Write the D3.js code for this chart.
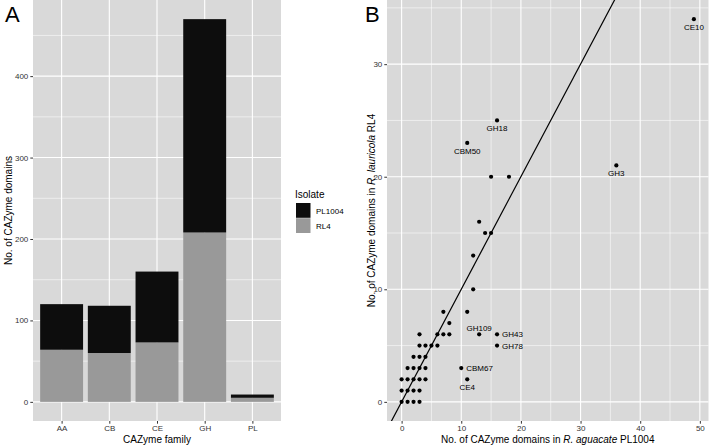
<!DOCTYPE html>
<html><head><meta charset="utf-8">
<script src="https://cdn.jsdelivr.net/npm/d3@7"></script>
<style>body{margin:0;background:#fff}text{font-family:"Liberation Sans",Arial,Helvetica,sans-serif}</style>
</head><body><svg id="c" width="709" height="447"></svg>
<script>
// ---- Panel A data ----
const families = ["AA","CB","CE","GH","PL"];
const rl4Counts = [64, 60, 73, 208, 5];
const pl1004Counts = [56, 58, 87, 262, 4];
const isolates = ["PL1004","RL4"];
const yTicksA = [0,100,200,300,400];

// ---- Panel B data ----
const pl1004Dom = [0,1,2,3, 0,1,2,3, 0,1,2,3,4,11, 1,2,3,4,10, 2,3,4, 3,4,5,6,16, 3,6,7,8,13,16, 8, 7,11, 12, 12, 14,15, 13, 15,18, 11, 16, 36, 49];
const rl4Dom    = [0,0,0,0, 1,1,1,1, 2,2,2,2,2,2,  3,3,3,3,3,  4,4,4, 5,5,5,5,5,   6,6,6,6,6,6,  7, 8,8,   10, 13, 15,15, 16, 20,20, 23, 25, 21, 34];
const labelNames = ["CE4","CBM67","GH78","GH43","GH109","CBM50","GH18","GH3","CE10"];
const labelX = [11,10,16,16,13,11,16,36,49];
const labelY = [2,3,5,6,6,23,25,21,34];
const xTicksB = [0,10,20,30,40,50];
const yTicksB = [0,10,20,30];

const labelPlacement = {CE4:"below",CBM67:"right",GH78:"right",GH43:"right",GH109:"above",CBM50:"below",GH18:"below",GH3:"below",CE10:"below"};

const svg = d3.select("#c");
const panelBg = "#d9d9d9";
const tickCol = "#333";

function grid(g, xs, ys, xMaj, xMin, yMaj, yMin, x0, x1, y0, y1){
  g.append("rect").attr("x",x0).attr("y",y0).attr("width",x1-x0).attr("height",y1-y0).attr("fill",panelBg);
  yMin.forEach(v=>g.append("line").attr("x1",x0).attr("x2",x1).attr("y1",ys(v)).attr("y2",ys(v)).attr("stroke","#fff").attr("stroke-width",0.55));
  xMin.forEach(v=>g.append("line").attr("y1",y0).attr("y2",y1).attr("x1",xs(v)).attr("x2",xs(v)).attr("stroke","#fff").attr("stroke-width",0.55));
  yMaj.forEach(v=>g.append("line").attr("x1",x0).attr("x2",x1).attr("y1",ys(v)).attr("y2",ys(v)).attr("stroke","#fff").attr("stroke-width",1.1));
  xMaj.forEach(v=>g.append("line").attr("y1",y0).attr("y2",y1).attr("x1",xs(v)).attr("x2",xs(v)).attr("stroke","#fff").attr("stroke-width",1.1));
}

// ================= Panel A =================
const aL=33, aR=281, pTop=0, pBot=421;
const xA = d3.scaleLinear().domain([0.4, families.length+0.6]).range([aL,aR]);
const totals = families.map((f,i)=>rl4Counts[i]+pl1004Counts[i]);
const maxA = d3.max(totals);
const yA = d3.scaleLinear().domain([-0.05*maxA, maxA*1.05]).range([pBot, pTop]);
const gA = svg.append("g");
grid(gA, xA, yA, families.map((f,i)=>i+1), [], yTicksA, [50,150,250,350,450], aL, aR, pTop, pBot);

const stackData = families.map((f,i)=>({family:f, idx:i+1, RL4:rl4Counts[i], PL1004:pl1004Counts[i]}));
const stacked = d3.stack().keys(["RL4","PL1004"])(stackData);
const fillMap = {RL4:"#999999", PL1004:"#0d0d0d"};
stacked.forEach(layer=>{
  gA.selectAll(null).data(layer).enter().append("rect")
    .attr("x", d=>xA(d.data.idx-0.45))
    .attr("width", d=>xA(d.data.idx+0.45)-xA(d.data.idx-0.45))
    .attr("y", d=>yA(d[1]))
    .attr("height", d=>yA(d[0])-yA(d[1]))
    .attr("fill", fillMap[layer.key]);
});
// axes A
const axA = svg.append("g").attr("transform",`translate(${aL},0)`)
  .call(d3.axisLeft(yA).tickValues(yTicksA).tickSize(2.7).tickPadding(2));
const axAx = svg.append("g").attr("transform",`translate(0,${pBot})`)
  .call(d3.axisBottom(xA).tickValues(families.map((f,i)=>i+1)).tickFormat((d)=>families[d-1]).tickSize(2.7).tickPadding(2));
[axA,axAx].forEach(a=>{a.select(".domain").remove();a.selectAll("line").attr("stroke",tickCol);a.selectAll("text").attr("fill",tickCol).attr("font-size",8).attr("font-family","Liberation Sans, Arial, sans-serif");});

svg.append("text").attr("x",(aL+aR)/2).attr("y",443).attr("text-anchor","middle").attr("font-size",10).text("CAZyme family");
svg.append("text").attr("transform",`translate(12,${(pTop+pBot)/2}) rotate(-90)`).attr("text-anchor","middle").attr("font-size",10).text("No. of CAZyme domains");
svg.append("text").attr("x",5).attr("y",22).attr("font-size",22).text("A");

// legend
const lg = svg.append("g");
lg.append("text").attr("x",295).attr("y",198).attr("font-size",10).text("Isolate");
isolates.forEach((k,i)=>{
  lg.append("rect").attr("x",296).attr("y",203+i*15.2).attr("width",14.5).attr("height",14.8).attr("fill",fillMap[k]);
  lg.append("text").attr("x",316).attr("y",213.5+i*15.2).attr("font-size",8).text(k);
});

// ================= Panel B =================
const bL=387, bR=708.5;
const xmaxB = d3.max(pl1004Dom), ymaxB = d3.max(rl4Dom);
const xB = d3.scaleLinear().domain([-0.05*xmaxB, xmaxB*1.05]).range([bL,bR]);
const yB = d3.scaleLinear().domain([-0.05*ymaxB, ymaxB*1.05]).range([pBot,pTop]);
const gB = svg.append("g");
grid(gB, xB, yB, xTicksB, [5,15,25,35,45], yTicksB, [5,15,25,35], bL, bR, pTop, pBot);

svg.append("clipPath").attr("id","clipB").append("rect").attr("x",bL).attr("y",pTop).attr("width",bR-bL).attr("height",pBot-pTop);
const lineLo = -5, lineHi = 60;
gB.append("line").attr("clip-path","url(#clipB)")
  .attr("x1",xB(lineLo)).attr("y1",yB(lineLo)).attr("x2",xB(lineHi)).attr("y2",yB(lineHi))
  .attr("stroke","#000").attr("stroke-width",1.2);

gB.selectAll(null).data(pl1004Dom.map((x,i)=>({x, y:rl4Dom[i]}))).enter().append("circle")
  .attr("cx",d=>xB(d.x)).attr("cy",d=>yB(d.y)).attr("r",2.1).attr("fill","#000");

labelNames.forEach((n,i)=>{
  const px=xB(labelX[i]), py=yB(labelY[i]); const p=labelPlacement[n];
  const t=gB.append("text").attr("font-size",8).attr("fill","#000").text(n);
  if(p==="below") t.attr("x",px).attr("y",py+11).attr("text-anchor","middle");
  else if(p==="above") t.attr("x",px).attr("y",py-3).attr("text-anchor","middle");
  else t.attr("x",px+5).attr("y",py+3).attr("text-anchor","start");
});

const axB = svg.append("g").attr("transform",`translate(${bL},0)`)
  .call(d3.axisLeft(yB).tickValues(yTicksB).tickSize(2.7).tickPadding(2));
const axBx = svg.append("g").attr("transform",`translate(0,${pBot})`)
  .call(d3.axisBottom(xB).tickValues(xTicksB).tickSize(2.7).tickPadding(2));
[axB,axBx].forEach(a=>{a.select(".domain").remove();a.selectAll("line").attr("stroke",tickCol);a.selectAll("text").attr("fill",tickCol).attr("font-size",8).attr("font-family","Liberation Sans, Arial, sans-serif");});

const xt = svg.append("text").attr("x",(bL+bR)/2).attr("y",443).attr("text-anchor","middle").attr("font-size",10);
xt.append("tspan").text("No. of CAZyme domains in ");
xt.append("tspan").attr("font-style","italic").text("R. aguacate");
xt.append("tspan").text(" PL1004");
const yt = svg.append("text").attr("transform",`translate(375,${(pTop+pBot)/2}) rotate(-90)`).attr("text-anchor","middle").attr("font-size",10);
yt.append("tspan").text("No. of CAZyme domains in ");
yt.append("tspan").attr("font-style","italic").text("R. lauricola");
yt.append("tspan").text(" RL4");
svg.append("text").attr("x",365).attr("y",22).attr("font-size",22).text("B");
</script></body></html>
